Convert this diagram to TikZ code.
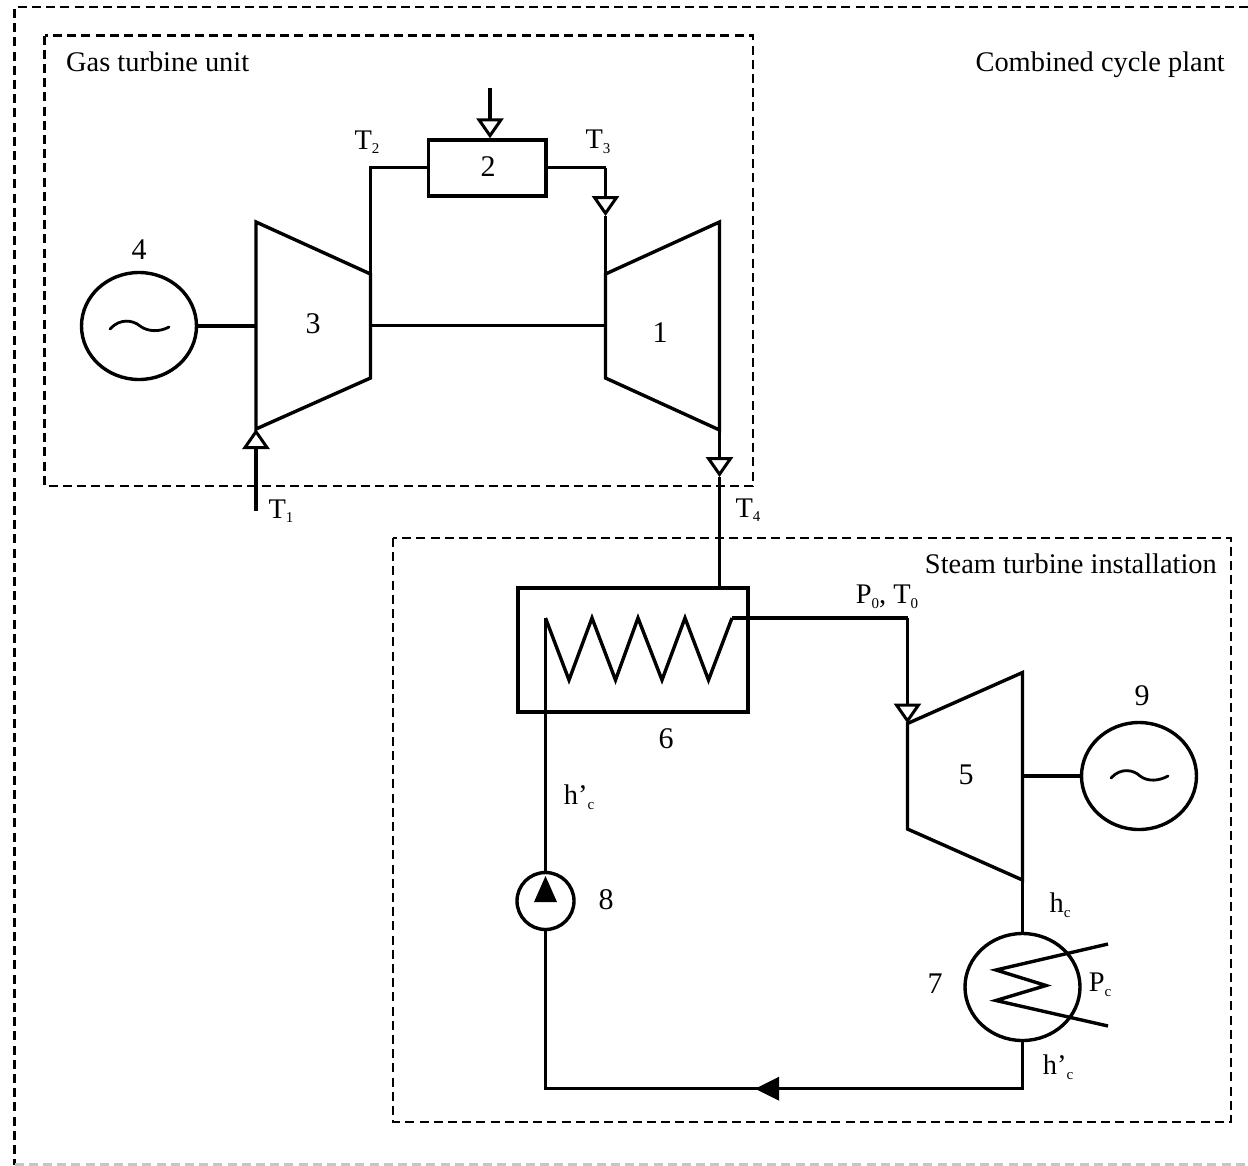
\documentclass[tikz,border=0pt]{standalone}
\usepackage{fontspec}
\setmainfont{Liberation Serif}
\usetikzlibrary{arrows.meta,shapes.geometric}
\newcommand\sbs[1]{\raisebox{-.35ex}{\fontsize{15}{15}\selectfont #1}}
\tikzset{
  x=1pt,y=-1pt,
  frame/.style={line width=2.6pt,dash pattern=on 9pt off 5.2pt},
  pipe/.style={line width=3.4pt,line join=miter},
  opentip/.style={-{Triangle[open,length=20pt,width=27pt,line width=3pt]}},
  filltip/.style={-{Triangle[length=24pt,width=23pt]}},
  gen/.style={draw,ellipse,line width=3.4pt,minimum width=115pt,minimum height=107pt,inner sep=0pt},
  box/.style={draw,rectangle,line width=3.4pt,inner sep=0pt},
  lab/.style={font=\fontsize{28.4}{28}\selectfont,inner sep=0pt},
  num/.style={font=\fontsize{30}{30}\selectfont,inner sep=0pt}
}
\begin{document}
\begin{tikzpicture}
\useasboundingbox (0,0) rectangle (1248,1165);
% frames
\draw[frame] (1248,7) -- (14.5,7) -- (14.5,1165);
\draw[frame,gray!45] (14.5,1164.5) -- (1248,1164.5);
\draw[frame] (44.6,35.5) rectangle (753,486);
\draw[frame] (393,538) rectangle (1231,1122);
\node[lab,anchor=base west] (lgas) at (66,71) {Gas turbine unit};
\node[lab,anchor=base east] (lcomb) at (1225,71) {Combined cycle plant};
\node[lab,anchor=base east] (lsteam) at (1217,573) {Steam turbine installation};
% coordinates
\coordinate (c3tl) at (256,222);
\coordinate (c3bl) at (256,429);
\coordinate (c3tr) at (370.5,274);
\coordinate (c3br) at (370.5,378);
\coordinate (c1tl) at (605.5,274);
\coordinate (c1bl) at (605.5,378);
\coordinate (c1tr) at (719.5,222);
\coordinate (c1br) at (719.5,430);
\coordinate (c5tl) at (907.5,723.5);
\coordinate (c5bl) at (907.5,829);
\coordinate (c5tr) at (1022.5,672.5);
\coordinate (c5br) at (1022.5,880);
% machines
\draw[pipe] (c3tl) -- (c3tr) -- (c3br) -- (c3bl) -- cycle;
\draw[pipe] (c1tl) -- (c1tr) -- (c1br) -- (c1bl) -- cycle;
\draw[pipe] (c5tl) -- (c5tr) -- (c5br) -- (c5bl) -- cycle;
\node[gen] (g4) at (139,326) {};
\node[gen] (g9) at (1139,776) {};
\node[box,minimum width=117.5pt,minimum height=56pt] (b2) at (487.2,168) {};
\node[box,minimum width=230pt,minimum height=124pt] (b6) at (633,650) {};
\node[draw,circle,line width=3.4pt,minimum width=57pt,inner sep=0pt] (p8) at (545.5,901) {};
\node[gen] (k7) at (1022.5,987) {};
% tilde marks
\draw[line width=2.8pt,line cap=round] (110,329) .. controls (120,318) and (133,320) .. (140,326) .. controls (148,332) and (160,332) .. (169,327);
\draw[line width=2.8pt,line cap=round] (1111,778) .. controls (1121,767) and (1134,770) .. (1140,776) .. controls (1148,782) and (1159,781) .. (1168,776);
% connectors
\draw[pipe] (g4.east) -- (g4.east -| c3tl);
\coordinate (s1) at (370.5,325.5);
\coordinate (s2) at (605.5,325.5);
\draw[pipe] (s1) -- (s2);
\draw[pipe] (g9.west) -- (g9.west -| c5tr);
\coordinate (fuel) at (490,88);
\draw[pipe,opentip] (fuel) -- (fuel |- b2.north);
\coordinate (t2top) at (370.5,167.6);
\draw[pipe] (c3tr) -- (t2top) -- (t2top -| b2.west);
\coordinate (t3top) at (605.5,167.6);
\coordinate (t3tip) at (605.5,216);
\draw[pipe] (t3tip) -- (c1tl);
\draw[pipe] (t3top -| b2.east) -- (t3top);
\draw[pipe,opentip] (t3top) -- (t3tip);
\coordinate (t1start) at (256,511);
\draw[pipe,opentip] (t1start) -- (c3bl);
\coordinate (t4tip) at (719.5,477);
\draw[pipe,opentip] (c1br) -- (t4tip);
\draw[pipe] (t4tip) -- (t4tip |- b6.north);
% boiler coil
\coordinate (coil0) at (545.5,618);
\coordinate (coil9) at (732,618);
\draw[pipe] (coil0) -- (569,680) -- (592,618) -- (615.5,680) -- (638,618) -- (662,680) -- (685,618) -- (708.5,680) -- (coil9);
\coordinate (p0top) at (907.5,618);
\draw[pipe] (coil9) -- (p0top);
\draw[pipe,opentip] (p0top) -- (c5tl);
\draw[pipe] (c5br) -- (k7.north);
% condenser coil
\coordinate (cca) at (1108,944);
\coordinate (ccb) at (1108,1026);
\draw[pipe] (cca) -- (996,970) -- (1046,985.5) -- (996,1000.5) -- (ccb);
% return line
\coordinate (rb) at (1022.5,1088.7);
\coordinate (ra) at (545.5,1088.7);
\coordinate (rtip) at (755,1088.7);
\draw[pipe] (k7.south) -- (rb) -- (ra) -- (p8.south);
\draw[pipe,filltip] (rb) -- (rtip);
\draw[pipe] (p8.north) -- (coil0);
\coordinate (ptip) at (545.5,876);
\fill (ptip) -- (557,902) -- (534,902) -- cycle;
% numbers
\node[num] (n4) at (139,250) {4};
\node[num] (n3) at (313,324) {3};
\node[num] (n2) at (488,167) {2};
\node[num] (n1) at (660,333) {1};
\node[num] (n6) at (666,739) {6};
\node[num] (n5) at (966,775) {5};
\node[num] (n9) at (1142,696) {9};
\node[num] (n8) at (606,900) {8};
\node[num] (n7) at (935,984) {7};
% labels
\node[lab] (lt2) at (367,142) {T\sbs{2}};
\node[lab] (lt3) at (598,142) {T\sbs{3}};
\node[lab] (lt1) at (281,511) {T\sbs{1}};
\node[lab] (lt4) at (748,510) {T\sbs{4}};
\node[lab] (lp0) at (887,597) {P\sbs{0}, T\sbs{0}};
\node[lab] (lh1) at (579,797) {h’\sbs{c}};
\node[lab] (lh2) at (1060,905) {h\sbs{c}};
\node[lab] (lpc) at (1100,985) {P\sbs{c}};
\node[lab] (lh3) at (1058,1067) {h’\sbs{c}};
\end{tikzpicture}
\end{document}
